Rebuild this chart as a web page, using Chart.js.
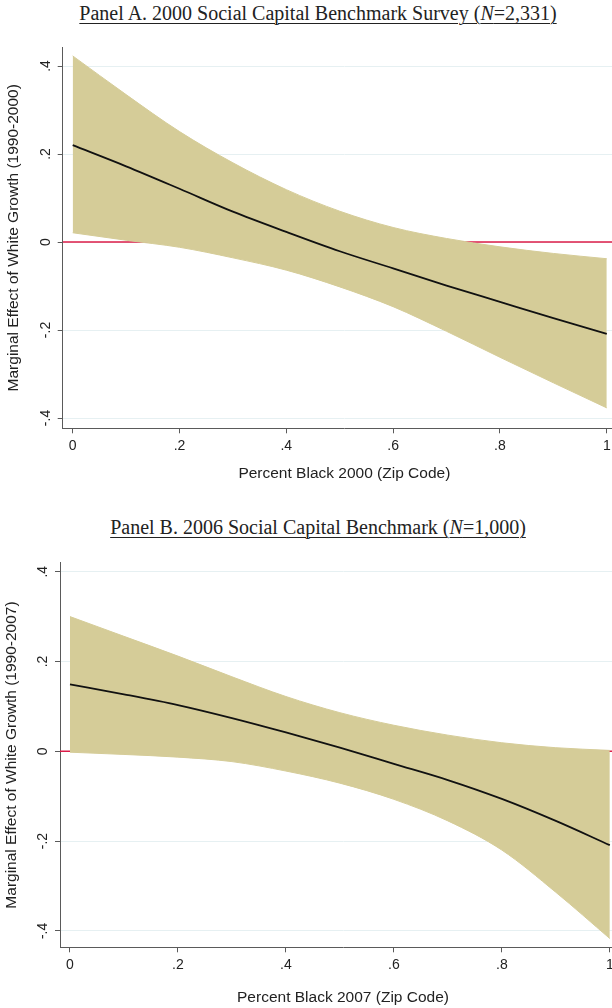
<!DOCTYPE html>
<html>
<head>
<meta charset="utf-8">
<title>Marginal effect of white growth</title>
<script src="https://cdn.jsdelivr.net/npm/chart.js@4.4.1/dist/chart.umd.min.js"></script>
<style>
    html, body { margin: 0; padding: 0; background: #fff; width: 612px; height: 1008px; overflow: hidden; }
    .panel-title {
        position: absolute; left: 0; width: 636px; text-align: center;
        font-family: "Liberation Serif", "Times New Roman", serif;
        font-size: 20px; line-height: 24px; color: #222;
    }
    .panel-title span { text-decoration: underline; text-decoration-thickness: 1px; text-underline-offset: 3px; }
    .chart-box { position: absolute; left: 0; width: 636px; }
</style>
</head>
<body>
<div class="panel-title" style="top:1px"><span>Panel A. 2000 Social Capital Benchmark Survey (<i>N</i>=2,331)</span></div>
<div class="chart-box" style="top:40px;height:460px"><canvas id="chartA"></canvas></div>

<div class="panel-title" style="top:515px"><span>Panel B. 2006 Social Capital Benchmark (<i>N</i>=1,000)</span></div>
<div class="chart-box" style="top:545px;height:463px"><canvas id="chartB"></canvas></div>

<script>
// Percent black (share) at which the marginal effect is evaluated
const percentBlack = [0, 0.1, 0.2, 0.3, 0.4, 0.5, 0.6, 0.7, 0.8, 0.9, 1];

// Panel A: 2000 SCBS, white growth 1990-2000
const effectA = [0.220, 0.172, 0.121, 0.069, 0.023, -0.021, -0.060, -0.099, -0.136, -0.173, -0.209];
const upperA  = [0.423, 0.335, 0.251, 0.180, 0.119, 0.070, 0.033, 0.008, -0.011, -0.026, -0.038];
const lowerA  = [0.021, 0.004, -0.012, -0.036, -0.064, -0.102, -0.147, -0.203, -0.262, -0.320, -0.377];

// Panel B: 2006 SCCBS, white growth 1990-2007
const effectB = [0.149, 0.127, 0.103, 0.074, 0.042, 0.008, -0.028, -0.064, -0.106, -0.155, -0.209];
const upperB  = [0.300, 0.256, 0.212, 0.166, 0.122, 0.086, 0.058, 0.036, 0.019, 0.008, 0.002];
const lowerB  = [-0.002, -0.007, -0.013, -0.023, -0.044, -0.071, -0.107, -0.155, -0.220, -0.314, -0.417];

// Reference line at zero
const zeroLine = [0];

// Axis ticks
const xTickValues = [0, 0.2, 0.4, 0.6, 0.8, 1];
const xTickLabels = ['0', '.2', '.4', '.6', '.8', '1'];
const yTickValues = [-0.4, -0.2, 0, 0.2, 0.4];
const yTickLabels = ['-.4', '-.2', '0', '.2', '.4'];

const SANS = '"Liberation Sans", Arial, sans-serif';
const BAND = '#d5cc98';
const RED = '#dc1c48';
const AXIS = '#5a5a5a';
const GRID = '#e6f0f2';
const INK = '#222';

function toPoints(ys) {
    return ys.map((y, i) => ({ x: percentBlack[i], y: y }));
}

// Stata draws the y tick labels turned on their side
const yTickTextPlugin = {
    id: 'yTickText',
    afterDraw(chart, args, opts) {
        const ctx = chart.ctx;
        const scale = chart.scales.y;
        ctx.save();
        ctx.font = '14px ' + SANS;
        ctx.fillStyle = INK;
        ctx.textAlign = 'center';
        ctx.textBaseline = 'middle';
        yTickValues.forEach((v, i) => {
            ctx.save();
            ctx.translate(opts.x, scale.getPixelForValue(v));
            ctx.rotate(-Math.PI / 2);
            ctx.fillText(yTickLabels[i], 0, 0);
            ctx.restore();
        });
        ctx.restore();
    }
};

function createPanel(canvasId, p) {
    const ctx = document.getElementById(canvasId).getContext('2d');
    const line = { pointRadius: 0, cubicInterpolationMode: 'monotone' };

    return new Chart(ctx, {
        type: 'line',
        plugins: [yTickTextPlugin],
        data: {
            datasets: [
                { label: 'Marginal effect', data: toPoints(p.effect), borderColor: '#111', borderWidth: 1.8, fill: false, ...line },
                { label: '95% CI upper', data: toPoints(p.upper), borderColor: BAND, backgroundColor: BAND, borderWidth: 1, fill: '+1', ...line },
                { label: '95% CI lower', data: toPoints(p.lower), borderColor: BAND, borderWidth: 1, fill: false, ...line },
                {
                    label: 'Zero',
                    data: [{ x: p.xMin, y: zeroLine[0] }, { x: p.xMax, y: zeroLine[0] }],
                    borderColor: RED, borderWidth: 1.5, pointRadius: 0, fill: false
                }
            ]
        },
        options: {
            responsive: true,
            maintainAspectRatio: false,
            animation: false,
            devicePixelRatio: 1,
            layout: { padding: { top: p.padTop, right: 10, left: 0, bottom: 0 } },
            plugins: {
                legend: { display: false },
                tooltip: { enabled: false },
                yTickText: { x: p.tickTextX }
            },
            scales: {
                x: {
                    type: 'linear',
                    min: p.xMin,
                    max: p.xMax,
                    afterBuildTicks: s => { s.ticks = xTickValues.map(v => ({ value: v })); },
                    afterFit: s => { s.height = p.xAxisHeight; },
                    border: { color: AXIS, width: 1 },
                    grid: { drawOnChartArea: false, color: AXIS, tickColor: AXIS, tickLength: 5 },
                    ticks: {
                        autoSkip: false, maxRotation: 0, padding: 4, color: INK,
                        font: { family: SANS, size: 14 },
                        callback: (v, i) => xTickLabels[i]
                    },
                    title: {
                        display: true, text: p.xTitle, color: INK,
                        font: { family: SANS, size: 15.5 },
                        padding: { top: 0, bottom: p.xTitlePad }
                    }
                },
                y: {
                    type: 'linear',
                    min: p.yMin,
                    max: p.yMax,
                    afterBuildTicks: s => { s.ticks = yTickValues.map(v => ({ value: v })); },
                    afterFit: s => { s.width = p.yAxisWidth; },
                    border: { color: AXIS, width: 1 },
                    grid: { color: GRID, tickColor: AXIS, tickLength: 5 },
                    ticks: { display: false },
                    title: {
                        display: true, text: p.yTitle, color: INK,
                        font: { family: SANS, size: 15.5 },
                        padding: { top: p.yTitlePad, bottom: 0 }
                    }
                }
            }
        }
    });
}

createPanel('chartA', {
    effect: effectA, upper: upperA, lower: lowerA,
    xTitle: 'Percent Black 2000 (Zip Code)',
    yTitle: 'Marginal Effect of White Growth (1990-2000)',
    xMin: -0.0187, xMax: 1.036, yMin: -0.4234, yMax: 0.4425,
    padTop: 7.3, xAxisHeight: 71.7, yAxisWidth: 62.7,
    xTitlePad: 17.4, yTitlePad: 4.7, tickTextX: 46
});

createPanel('chartB', {
    effect: effectB, upper: upperB, lower: lowerB,
    xTitle: 'Percent Black 2007 (Zip Code)',
    yTitle: 'Marginal Effect of White Growth (1990-2007)',
    xMin: -0.0185, xMax: 1.030, yMin: -0.4365, yMax: 0.420,
    padTop: 17.7, xAxisHeight: 60.7, yAxisWidth: 60,
    xTitlePad: 1.2, yTitlePad: 2.7, tickTextX: 43
});
</script>
</body>
</html>
